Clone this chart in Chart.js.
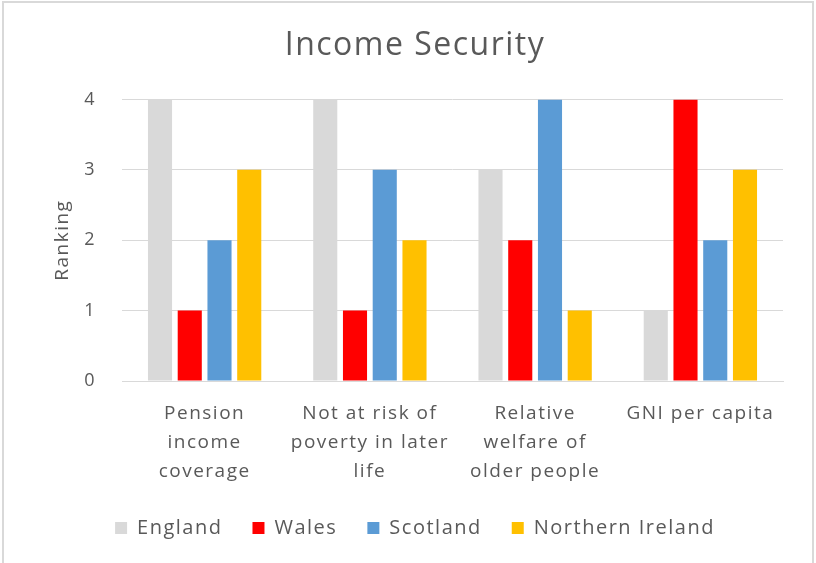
<!DOCTYPE html>
<html>
<head>
<meta charset="utf-8">
<script src="https://cdn.jsdelivr.net/npm/chart.js@4"></script>
<style>
  html, body { margin: 0; padding: 0; background: #fff; }
  #wrap { position: relative; width: 816px; height: 563px; }
</style>
</head>
<body>
<div id="wrap"><canvas id="incomeChart" width="816" height="563"></canvas></div>
<script>
const categories = [
    ['Pension', 'income', 'coverage'],
    ['Not at risk of', 'poverty in later', 'life'],
    ['Relative', 'welfare of', 'older people'],
    ['GNI per capita']
];
const englandRank = [4, 4, 3, 1];
const walesRank = [1, 1, 2, 4];
const scotlandRank = [2, 3, 4, 2];
const niRank = [3, 2, 1, 3];
const rankTicks = [0, 1, 2, 3, 4];

const textGrey = '#595959';
const gridGrey = '#d9d9d9';
const font = "'Open Sans', 'DejaVu Sans', sans-serif";

// wide tracking on all the chart text
const spacingPlugin = {
    id: 'spacing',
    beforeUpdate(chart) { chart.ctx.letterSpacing = '1.5px'; },
    beforeDraw(chart) { chart.ctx.letterSpacing = '1.5px'; }
};

// light frame around the whole chart (no bottom edge)
const framePlugin = {
    id: 'frame',
    beforeDraw(chart) {
        const ctx = chart.ctx;
        ctx.save();
        ctx.strokeStyle = '#d9d9d9';
        ctx.lineWidth = 2;
        ctx.beginPath();
        ctx.moveTo(3, 563);
        ctx.lineTo(3, 2);
        ctx.lineTo(813, 2);
        ctx.lineTo(813, 563);
        ctx.stroke();
        ctx.restore();
    }
};

function series(label, data, color) {
    return {
        label: label,
        data: data,
        backgroundColor: color,
        borderWidth: 0,
        barPercentage: 0.81,
        categoryPercentage: 0.72
    };
}

new Chart(document.getElementById('incomeChart'), {
    type: 'bar',
    data: {
        labels: categories,
        datasets: [
            series('England', englandRank, '#d9d9d9'),
            series('Wales', walesRank, '#ff0000'),
            series('Scotland', scotlandRank, '#5b9bd5'),
            series('Northern Ireland', niRank, '#ffc000')
        ]
    },
    options: {
        responsive: false,
        animation: false,
        layout: { padding: { top: 20, left: 47, right: 33, bottom: 15 } },
        plugins: {
            title: {
                display: true,
                text: 'Income Security',
                color: textGrey,
                font: { family: font, size: 32, weight: 'normal' },
                padding: { top: 7, bottom: 34 }
            },
            legend: {
                position: 'bottom',
                labels: {
                    color: textGrey,
                    font: { family: font, size: 20 },
                    boxWidth: 12,
                    boxHeight: 12,
                    padding: 30
                }
            },
            tooltip: { enabled: false }
        },
        scales: {
            x: {
                grid: { display: false },
                border: { color: gridGrey, width: 1 },
                afterFit: axis => { axis.height = 107; },
                ticks: {
                    color: textGrey,
                    font: { family: font, size: 19, lineHeight: 1.52 },
                    maxRotation: 0,
                    autoSkip: false,
                    padding: 10
                }
            },
            y: {
                min: 0,
                max: 4,
                afterBuildTicks: axis => { axis.ticks = rankTicks.map(v => ({ value: v })); },
                afterFit: axis => { axis.width = 75; },
                grid: { color: gridGrey, drawTicks: false },
                border: { display: false },
                ticks: {
                    color: textGrey,
                    font: { family: font, size: 18 },
                    padding: 26
                },
                title: {
                    display: true,
                    text: 'Ranking',
                    color: textGrey,
                    font: { family: font, size: 19 },
                    padding: { top: 4, bottom: 4 }
                }
            }
        }
    },
    plugins: [spacingPlugin, framePlugin]
});
</script>
</body>
</html>
